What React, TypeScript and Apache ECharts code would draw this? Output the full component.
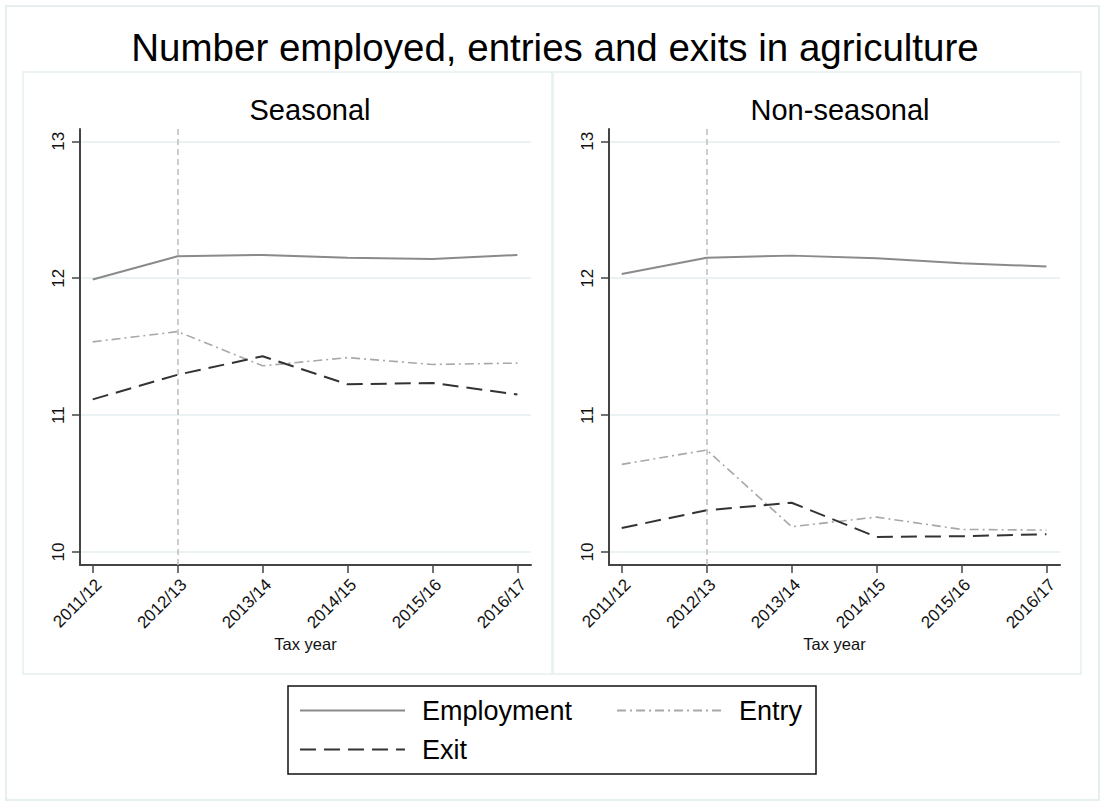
import React, { useEffect, useRef } from "react";
import * as echarts from "echarts";

const categories = ["2011/12", "2012/13", "2013/14", "2014/15", "2015/16", "2016/17"];
const yTicks = [10, 11, 12, 13];
const xTicks = [0, 1, 2, 3, 4, 5];
const reformLine = 1; // 2012/13

const seasonalEmployment = [11.99, 12.16, 12.17, 12.15, 12.14, 12.17];
const seasonalEntry = [11.535, 11.61, 11.36, 11.42, 11.37, 11.38];
const seasonalExit = [11.115, 11.295, 11.43, 11.225, 11.235, 11.15];

const nonSeasonalEmployment = [12.03, 12.15, 12.165, 12.145, 12.11, 12.085];
const nonSeasonalEntry = [10.64, 10.745, 10.185, 10.255, 10.165, 10.16];
const nonSeasonalExit = [10.175, 10.305, 10.36, 10.11, 10.115, 10.13];

const FONT = "'Liberation Sans', Arial, sans-serif";

const styles: Record<string, any> = {
  Employment: { color: "#8a8a8a", width: 2, type: "solid" },
  Entry: { color: "#a8a8a8", width: 1.6, type: [9, 4, 2, 4] },
  Exit: { color: "#333333", width: 2, type: [16, 8] },
};

function App() {
  const ref = useRef<HTMLDivElement>(null);
  useEffect(() => {
    if (!ref.current) return;
    const chart = echarts.init(ref.current, null, { renderer: "svg" });

    const panels = [
      { emp: seasonalEmployment, ent: seasonalEntry, ex: seasonalExit },
      { emp: nonSeasonalEmployment, ent: nonSeasonalEntry, ex: nonSeasonalExit },
    ];

    const grids = [
      { left: 80, top: 129, width: 451, height: 436 },
      { left: 609, top: 129, width: 451, height: 436 },
    ];

    const xAxes = grids.map((_, i) => ({
      type: "value",
      gridIndex: i,
      min: -0.15,
      max: 5.16,
      name: "Tax year",
      nameLocation: "middle",
      nameGap: 70,
      nameMoveOverlap: false,
      nameTextStyle: { fontFamily: FONT, fontSize: 16.5, color: "#111" },
      axisLine: { show: true, onZero: false, lineStyle: { color: "#444", width: 2 } },
      axisTick: { show: true, length: 8, customValues: xTicks, lineStyle: { color: "#444", width: 1.5 } },
      axisLabel: {
        customValues: xTicks,
        rotate: 45,
        margin: 11,
        verticalAlign: "top",
        fontFamily: FONT,
        fontSize: 17,
        color: "#111",
        formatter: (v: number) => categories[Math.round(v)] ?? "",
      },
      splitLine: { show: false },
    }));

    const yAxes = grids.map((_, i) => ({
      type: "value",
      gridIndex: i,
      min: 9.905,
      max: 13.09,
      axisLine: { show: true, onZero: false, lineStyle: { color: "#444", width: 2 } },
      axisTick: { show: true, length: 8, customValues: yTicks, lineStyle: { color: "#444", width: 1.5 } },
      axisLabel: {
        customValues: yTicks,
        rotate: 90,
        margin: 13,
        fontFamily: FONT,
        fontSize: 17,
        color: "#111",
      },
      splitLine: { show: true, lineStyle: { color: "#e3eef0", width: 1.5 } },
    }));

    const series: any[] = [];
    panels.forEach((p, i) => {
      const entries: [string, number[]][] = [
        ["Employment", p.emp],
        ["Entry", p.ent],
        ["Exit", p.ex],
      ];
      entries.forEach(([name, vals], k) => {
        const s: any = {
          type: "line",
          name,
          xAxisIndex: i,
          yAxisIndex: i,
          symbol: "none",
          showSymbol: false,
          data: vals.map((v, j) => [j, v]),
          lineStyle: styles[name],
          itemStyle: { color: styles[name].color },
          emphasis: { disabled: true },
        };
        if (k === 0) {
          s.markLine = {
            silent: true,
            symbol: "none",
            label: { show: false },
            lineStyle: { color: "#bdbdbd", type: [6, 4], width: 1.5 },
            data: [{ xAxis: reformLine }],
          };
        }
        series.push(s);
      });
    });

    const legendCommon = {
      left: 299,
      padding: 0,
      itemWidth: 105,
      itemHeight: 14,
      selectedMode: false,
      itemStyle: { opacity: 0, borderWidth: 0 },
      textStyle: { fontFamily: FONT, fontSize: 27, color: "#000", padding: [0, 0, 0, 12] },
    };

    chart.setOption({
      animation: false,
      backgroundColor: "#ffffff",
      title: [
        {
          text: "Number employed, entries and exits in agriculture",
          left: 550,
          top: 23,
          textAlign: "center",
          textStyle: { fontFamily: FONT, fontSize: 38.5, fontWeight: "normal", color: "#000" },
        },
        {
          text: "Seasonal",
          left: 305,
          top: 90,
          textAlign: "center",
          textStyle: { fontFamily: FONT, fontSize: 29, fontWeight: "normal", color: "#000" },
        },
        {
          text: "Non-seasonal",
          left: 835,
          top: 90,
          textAlign: "center",
          textStyle: { fontFamily: FONT, fontSize: 29, fontWeight: "normal", color: "#000" },
        },
      ],
      graphic: [
        { type: "rect", shape: { x: 6, y: 6, width: 1093, height: 794 }, style: { fill: "none", stroke: "#e6eff0", lineWidth: 2 }, z: -10 },
        { type: "rect", shape: { x: 23, y: 72, width: 529, height: 602 }, style: { fill: "none", stroke: "#e6eff0", lineWidth: 1.5 }, z: -10 },
        { type: "rect", shape: { x: 553, y: 72, width: 528, height: 602 }, style: { fill: "none", stroke: "#e6eff0", lineWidth: 1.5 }, z: -10 },
        { type: "rect", shape: { x: 288, y: 686, width: 528, height: 88 }, style: { fill: "#fff", stroke: "#111", lineWidth: 1.5 }, z: -5 },
      ],
      legend: [
        { ...legendCommon, data: ["Employment", "Entry"], top: 697, itemGap: 44 },
        { ...legendCommon, data: ["Exit"], top: 736 },
      ],
      grid: grids,
      xAxis: xAxes,
      yAxis: yAxes,
      series,
    });

    return () => chart.dispose();
  }, []);

  return (
    <div
      ref={ref}
      style={{ position: "fixed", left: 0, top: 0, width: 1101, height: 801, background: "#fff" }}
    />
  );
}

export default App;
